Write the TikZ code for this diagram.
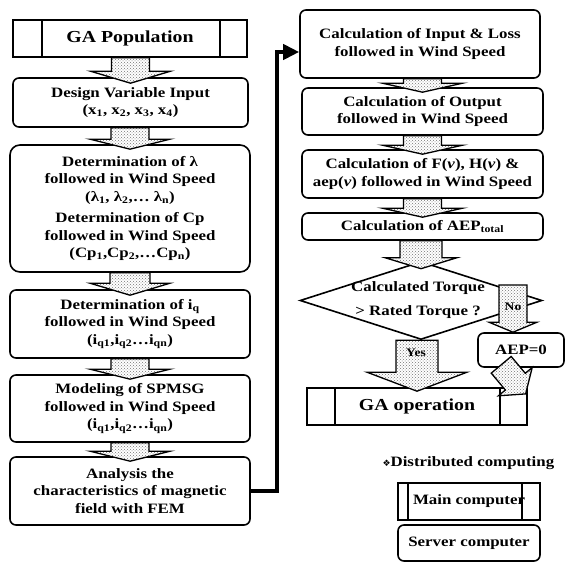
\documentclass[tikz,border=0pt]{standalone}
\usepackage{fontspec}
\setmainfont{Liberation Serif}[FakeStretch=1.18]
\newfontfamily\symfont{DejaVu Sans}
\usetikzlibrary{calc,patterns,arrows.meta,shapes.geometric}

\newcommand{\flowfont}{\fontsize{14.3}{17.5}\selectfont\bfseries}
\newcommand{\titlefont}{\fontsize{16.8}{19}\selectfont\bfseries}
\newcommand{\tagfont}{\fontsize{11.5}{13}\selectfont\bfseries}

% hollow block arrow from a start point down to a target point
% #1 start, #2 target, #3 half shaft, #4 half head, #5 head base above target, #6 tip below target
\newcommand{\blockarrow}[6]{%
  \draw[blockarr] let \p1=#1, \p2=#2 in
    (\x2-#3pt,\y1) -- (\x2+#3pt,\y1) -- (\x2+#3pt,\y2+#5pt) -- (\x2+#4pt,\y2+#5pt)
    -- (\x2,\y2-#6pt) -- (\x2-#4pt,\y2+#5pt) -- (\x2-#3pt,\y2+#5pt) -- cycle;}

\tikzset{
  base/.style={draw, line width=1.6pt, align=center, inner sep=0pt, font=\flowfont},
  rbox/.style={base, rounded corners=6pt},
  barbox/.style 2 args={base, font=\titlefont, path picture={
      \draw[line width=1.6pt] ([xshift=#1]path picture bounding box.south west)
        -- ([xshift=#1]path picture bounding box.north west);
      \draw[line width=1.6pt] ([xshift=-#2]path picture bounding box.south east)
        -- ([xshift=-#2]path picture bounding box.north east);}},
  blockarr/.style={draw, line width=1.3pt, line join=miter, preaction={fill=white},
    pattern=crosshatch dots, pattern color=black!55},
  bus/.style={line width=4pt, -{Triangle[length=16pt,width=15pt]}},
}

\begin{document}
\begin{tikzpicture}[x=1pt, y=-1pt]
\useasboundingbox (0,0) rectangle (565,562);

% left column
\node[barbox={29pt}{27pt}, minimum width=234pt, minimum height=37pt] (gapop) at (130,38.5) {GA Population};
\node[rbox, minimum width=235pt, minimum height=49pt] (design) at (130.5,102.5)
  {Design Variable Input\\(x\textsubscript{1}, x\textsubscript{2}, x\textsubscript{3}, x\textsubscript{4})};
\node[rbox, rounded corners=10pt, minimum width=240pt, minimum height=127pt] (lamcp) at (130,208.5)
  {Determination of λ\\followed in Wind Speed\\(λ\textsubscript{1}, λ\textsubscript{2},… λ\textsubscript{n})\\[4pt]%
   Determination of Cp\\followed in Wind Speed\\(Cp\textsubscript{1},Cp\textsubscript{2},…Cp\textsubscript{n})};
\node[rbox, minimum width=240pt, minimum height=68pt] (iq) at (130,324)
  {Determination of i\textsubscript{q}\\followed in Wind Speed\\(i\textsubscript{q1},i\textsubscript{q2}…i\textsubscript{qn})};
\node[rbox, minimum width=240pt, minimum height=67pt] (spmsg) at (130,408.5)
  {Modeling of SPMSG\\followed in Wind Speed\\(i\textsubscript{q1},i\textsubscript{q2}…i\textsubscript{qn})};
\node[rbox, minimum width=240pt, minimum height=68pt] (fem) at (130,491)
  {Analysis the\\characteristics of magnetic\\field with FEM};

% right column
\node[rbox, minimum width=240pt, minimum height=68pt] (inloss) at (420,44)
  {Calculation of Input \& Loss\\followed in Wind Speed};
\node[rbox, minimum width=241pt, minimum height=47pt] (output) at (422.5,111.5)
  {Calculation of Output\\followed in Wind Speed};
\node[rbox, minimum width=241pt, minimum height=48pt] (fhv) at (422.5,174)
  {Calculation of F(\textit{v}), H(\textit{v}) \&\\aep(\textit{v}) followed in Wind Speed};
\node[rbox, minimum width=241pt, minimum height=27pt] (aept) at (422.5,226.5)
  {Calculation of AEP\textsubscript{total}};
\node[diamond, draw, line width=1.6pt, minimum width=242pt, minimum height=78pt, inner sep=0pt] (dia) at (421,300.5) {};
\node[font=\flowfont, align=center] (diatxt) at (418,300) {Calculated Torque\\[6pt]> Rated Torque ?};
\node[barbox={28pt}{27pt}, minimum width=220pt, minimum height=37pt] (gaop) at (417,406.5) {GA operation};
\node[rbox, minimum width=86pt, minimum height=34pt] (aep0) at (521,350) {AEP=0};

% legend
\node[font=\flowfont, anchor=west] (dist) at (379,463)
  {{\symfont\fontsize{9}{9}\selectfont ❖}Distributed computing};
\node[barbox={10pt}{18pt}, font=\flowfont, minimum width=142pt, minimum height=37pt] (main) at (469,501.5) {Main computer};
\node[rbox, minimum width=142pt, minimum height=36pt] (server) at (469,543) {Server computer};

% block arrows of the left column
\blockarrow{(gapop.south)}{(design.north)}{19}{40}{6}{6}
\blockarrow{(design.south)}{(lamcp.north)}{19}{40}{5}{5}
\blockarrow{(lamcp.south)}{(iq.north)}{20}{40}{6}{6}
\blockarrow{(iq.south)}{(spmsg.north)}{19}{40}{5}{5}
\blockarrow{(spmsg.south)}{(fem.north)}{19}{40}{5}{5}

% block arrows of the right column
\blockarrow{(inloss.south)}{(output.north)}{19}{40}{4}{5}
\blockarrow{(output.south)}{(fhv.north)}{19}{40}{4}{5}
\blockarrow{(fhv.south)}{(aept.north)}{19}{40}{4}{5}
\blockarrow{(aept.south)}{(dia.north)}{21}{36}{3}{8}

% decision branches
\blockarrow{(dia.south)}{(gaop.north)}{21}{50}{15}{4}
\node[font=\tagfont] (yes) at (416,353) {Yes};
\coordinate (nostart) at (513,285);
\blockarrow{(nostart)}{(aep0.north -| nostart)}{14}{24}{10}{0}
\node[font=\tagfont] (no) at (513,307) {No};
\coordinate (aeps) at ($(aep0.south west)+(24,-3)$);
\draw[blockarr, shift={(aeps)}, rotate=-50]
  (0,-13) -- (22,-13) -- (22,-22) -- (38,0) -- (22,22) -- (22,13) -- (0,13) -- cycle;

% feedback line from the FEM analysis to the loss calculation
\coordinate (busx) at (277,0);
\draw[bus] (fem.east) -- (fem.east -| busx) |- ([yshift=-8pt]inloss.west);
\end{tikzpicture}
\end{document}
